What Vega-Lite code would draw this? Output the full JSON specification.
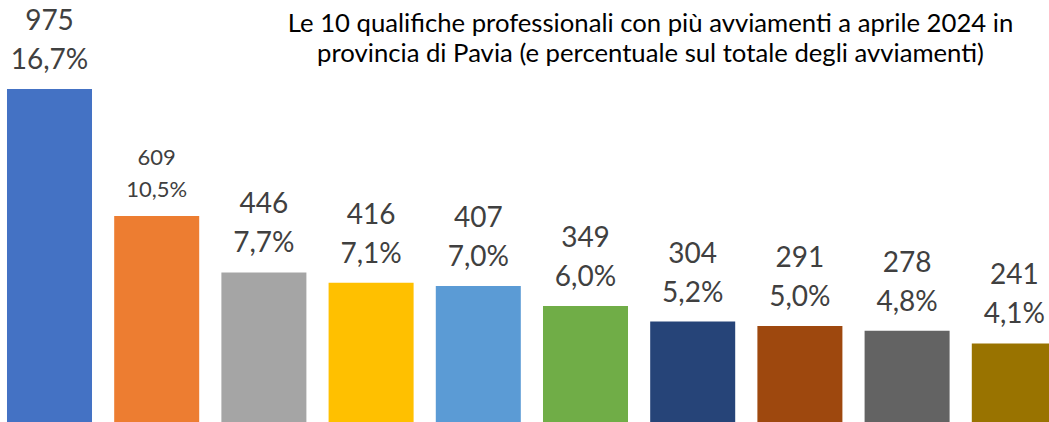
{
  "$schema": "https://vega.github.io/schema/vega-lite/v6.json",
  "width": 1049,
  "height": 422,
  "autosize": "none",
  "padding": 0,
  "background": "white",
  "config": {
    "view": {"stroke": null},
    "locale": {"number": {"decimal": ",", "thousands": ".", "grouping": [3], "currency": ["€", ""]}}
  },
  "title": {
    "text": ["Le 10 qualifiche professionali con più avviamenti a aprile 2024 in", "provincia di Pavia (e percentuale sul totale degli avviamenti)"],
    "font": "Lato",
    "fontSize": 25.7,
    "fontWeight": "normal",
    "color": "#000000",
    "anchor": "middle",
    "frame": "group",
    "dx": 126,
    "offset": -68,
    "baseline": "top",
    "lineHeight": 30
  },
  "data": {
    "values": [
      {"rank": 1, "value": 975, "pct": 0.167},
      {"rank": 2, "value": 609, "pct": 0.105},
      {"rank": 3, "value": 446, "pct": 0.077},
      {"rank": 4, "value": 416, "pct": 0.071},
      {"rank": 5, "value": 407, "pct": 0.070},
      {"rank": 6, "value": 349, "pct": 0.060},
      {"rank": 7, "value": 304, "pct": 0.052},
      {"rank": 8, "value": 291, "pct": 0.050},
      {"rank": 9, "value": 278, "pct": 0.048},
      {"rank": 10, "value": 241, "pct": 0.041}
    ]
  },
  "encoding": {
    "x": {"field": "rank", "type": "ordinal", "axis": null,
          "scale": {"range": [-4.1, 1067.9], "paddingInner": 0.207, "paddingOuter": 0.1035}},
    "y": {"field": "value", "type": "quantitative", "axis": null,
          "scale": {"domain": [0, 975], "range": [427, 89]}}
  },
  "layer": [
    {
      "mark": {"type": "bar"},
      "encoding": {
        "color": {"field": "rank", "type": "nominal", "legend": null,
                  "scale": {"range": ["#4472C4", "#ED7D31", "#A5A5A5", "#FFC000", "#5B9BD5", "#70AD47", "#264478", "#9E480E", "#636363", "#997300"]}}
      }
    },
    {
      "transform": [{"filter": "datum.rank != 2"}],
      "mark": {"type": "text", "font": "Lato", "fontSize": 28, "color": "#404040", "baseline": "alphabetic", "dy": -59},
      "encoding": {"text": {"field": "value", "type": "quantitative"}}
    },
    {
      "transform": [{"filter": "datum.rank != 2"}],
      "mark": {"type": "text", "font": "Lato", "fontSize": 28, "color": "#404040", "baseline": "alphabetic", "dy": -20},
      "encoding": {"text": {"field": "pct", "type": "quantitative", "format": ".1%"}}
    },
    {
      "transform": [{"filter": "datum.rank == 2"}],
      "mark": {"type": "text", "font": "Lato", "fontSize": 22, "color": "#404040", "baseline": "alphabetic", "dy": -51},
      "encoding": {"text": {"field": "value", "type": "quantitative"}}
    },
    {
      "transform": [{"filter": "datum.rank == 2"}],
      "mark": {"type": "text", "font": "Lato", "fontSize": 22, "color": "#404040", "baseline": "alphabetic", "dy": -19},
      "encoding": {"text": {"field": "pct", "type": "quantitative", "format": ".1%"}}
    }
  ]
}
